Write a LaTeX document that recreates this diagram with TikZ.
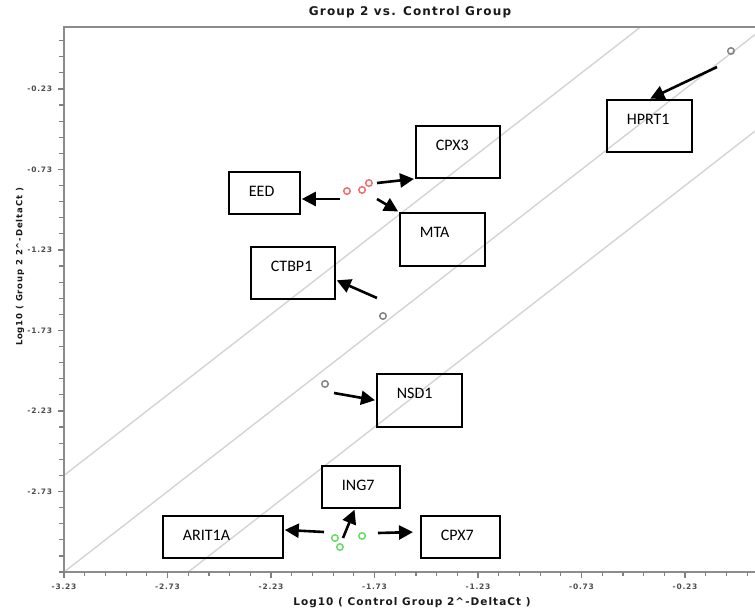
\documentclass[tikz,border=0pt]{standalone}
\usepackage{fontspec}
\newfontfamily\calibri{Carlito}
\newfontfamily\plotfont[LetterSpace=10]{DejaVu Sans}
\usetikzlibrary{arrows.meta,positioning}

\definecolor{spotred}{HTML}{F07070}
\definecolor{spotgreen}{HTML}{66DD66}
\definecolor{spotgray}{HTML}{858585}

\begin{document}
\begin{tikzpicture}
[
  x=1pt, y=1pt,
  genebox/.style 2 args={draw, line width=1.8pt, anchor=north west, inner xsep=20pt, inner ysep=0pt,
    align=left, text width=#1, text height=25pt, text depth=#2, font=\calibri\fontsize{16}{18}\selectfont},
  tip/.style={->, line width=2.6pt, >={Triangle[length=14pt,width=14pt]}, shorten >=1pt},
  frame/.style={draw=black!45, line width=2pt},
  tick/.style={draw=black!50, line width=1.2pt},
  fold/.style={draw=black!17, line width=1.4pt},
  spot/.style={circle, draw=#1, line width=1.5pt, minimum size=6.5pt, inner sep=0pt},
  ticklbl/.style={font=\plotfont\bfseries\fontsize{7.5}{8}\selectfont, text=black!70},
  axislbl/.style={font=\plotfont\bfseries\fontsize{10.5}{12}\selectfont, text=black!90}
]
\useasboundingbox (0,0) rectangle (755,614);

\begin{scope}[shift={(64,42)}, x=207pt, y=161pt, shift={(3.23,3.23)}]
  \begin{scope}
    \clip (-3.23,-3.23) rectangle (0.108,0.155);
    \draw[fold] (-4,-4) -- (1,1);
    \draw[fold] (-4,-3.4) -- (1,1.6);
    \draw[fold] (-4,-4.6) -- (1,0.4);
  \end{scope}

  \draw[frame] (0.108,0.155) -- (-3.23,0.155) -- (-3.23,-3.23) -- (0.108,-3.23);

  \foreach \i in {0,...,33} {
    \draw[tick] (-3.23+0.1*\i,-3.23) -- ++(0,-4pt);
    \draw[tick] (-3.23,-3.23+0.1*\i) -- ++(-5pt,0);
  }
  \foreach \v in {-3.23,-2.73,-2.23,-1.73,-1.23,-0.73,-0.23}
    \draw[tick] (\v,-3.23) -- ++(0,-6pt) node[ticklbl, below=2pt] {\v};
  \foreach \v in {-2.73,-2.23,-1.73,-1.23,-0.73,-0.23}
    \draw[tick] (-3.23,\v) -- ++(-6pt,0) node[ticklbl, left=2pt] {\v};

  \node[spot=spotgray] (hprt1pt) at (-0.008,0.006) {};
  \node[spot=spotred] (eedpt) at (-1.863,-0.864) {};
  \node[spot=spotred] (mtapt) at (-1.790,-0.857) {};
  \node[spot=spotred] (cpx3pt) at (-1.757,-0.814) {};
  \node[spot=spotgray] (ctbp1pt) at (-1.689,-1.640) {};
  \node[spot=spotgray] (nsd1pt) at (-1.969,-2.062) {};
  \node[spot=spotgreen] (arit1apt) at (-1.921,-3.019) {};
  \node[spot=spotgreen] (ing7pt) at (-1.897,-3.075) {};
  \node[spot=spotgreen] (cpx7pt) at (-1.790,-3.006) {};
\end{scope}

\node[axislbl, font=\plotfont\bfseries\fontsize{12}{14}\selectfont] (title) at (410,602) {Group 2 vs. Control Group};
\node[axislbl] (xlabel) at (412,11) {Log10 ( Control Group 2\textasciicircum-DeltaCt )};
\node[axislbl, font=\plotfont\bfseries\fontsize{8.5}{10}\selectfont, rotate=90] (ylabel) at (20,347) {Log10 ( Group 2 2\textasciicircum-DeltaCt )};

\node[genebox={45pt}{27pt}] (hprt1) at (606,515) {HPRT1};
\node[genebox={44pt}{27pt}] (cpx3) at (415,489) {CPX3};
\node[genebox={31pt}{17pt}] (eed) at (228,443) {EED};
\node[genebox={45pt}{28pt}] (mta) at (399,402) {MTA};
\node[genebox={44pt}{27pt}] (ctbp1) at (250,368) {CTBP1};
\node[genebox={45pt}{28pt}] (nsd1) at (376,241) {NSD1};
\node[genebox={38pt}{17pt}] (ing7) at (321,149) {ING7};
\node[genebox={80pt}{17pt}] (arit1a) at (162,99) {ARIT1A};
\node[genebox={39pt}{17pt}] (cpx7) at (420,99) {CPX7};

\coordinate (hprt1s) at (717,547);
\coordinate (cpx3s) at (377,431);
\coordinate (eeds) at (340,415);
\coordinate (mtas) at (377,415);
\coordinate (ctbp1s) at (377,316);
\coordinate (nsd1s) at (334,221);
\coordinate (ing7s) at (343,76);
\coordinate (arit1as) at (324,82);
\coordinate (cpx7s) at (378,81);

\path[tip]
  (hprt1s) edge (hprt1.north)
  (cpx3s) edge (cpx3.south west)
  (eeds) edge (eeds -| eed.east)
  (mtas) edge (mta.north west)
  (ctbp1s) edge ([yshift=-7pt]ctbp1.east)
  (nsd1s) edge (nsd1.west)
  (ing7s) edge ([xshift=-6pt]ing7.south)
  (arit1as) edge ([yshift=7pt]arit1a.east)
  (cpx7s) edge [shorten >=7pt] ([yshift=5pt]cpx7.west);
\end{tikzpicture}
\end{document}
